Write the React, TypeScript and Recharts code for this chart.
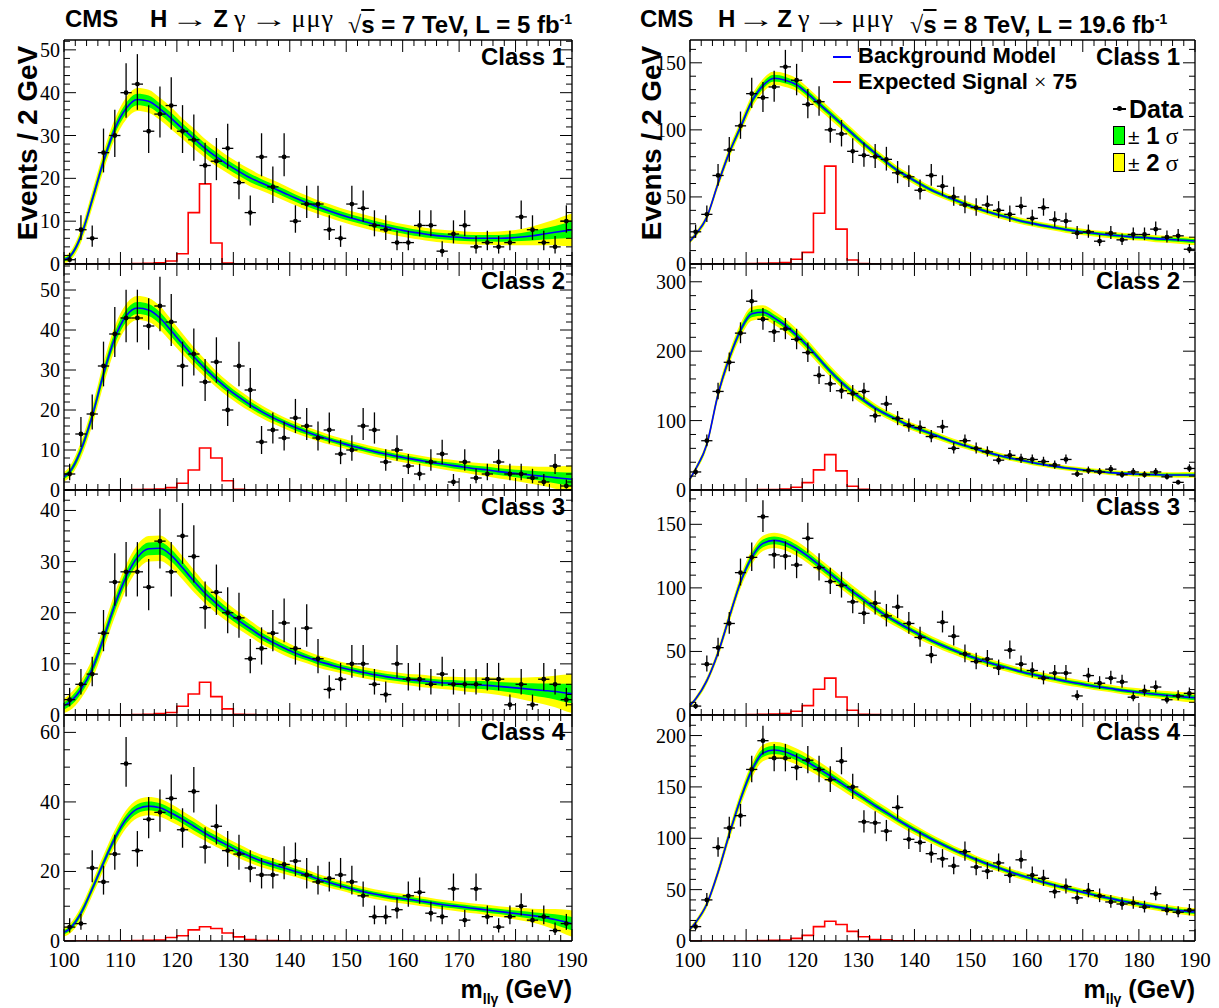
import React from "react";
import { ComposedChart, Line, Area, Scatter, XAxis, YAxis, ErrorBar } from "recharts";

// bin centres (2 GeV bins) and model sampling points
const BIN_X = [
  101, 103, 105, 107, 109, 111, 113, 115, 117, 119, 121, 123, 125, 127, 129,
  131, 133, 135, 137, 139, 141, 143, 145, 147, 149, 151, 153, 155, 157, 159,
  161, 163, 165, 167, 169, 171, 173, 175, 177, 179, 181, 183, 185, 187, 189,
];
const MODEL_X = [100, ...BIN_X, 190];
const SIGNAL_EDGES = [
  100, 102, 104, 106, 108, 110, 112, 114, 116, 118, 120, 122, 124, 126, 128,
  130, 132, 134, 136, 138, 140, 142, 144, 146, 148, 150, 152, 154, 156, 158,
  160, 162, 164, 166, 168, 170, 172, 174, 176, 178, 180,
];
const X_MAJOR = [100, 110, 120, 130, 140, 150, 160, 170, 180, 190];
const X_TICKS = SIGNAL_EDGES.concat([182, 184, 186, 188, 190]);

// ---- 7 TeV ----
const DATA_7_C1 = [1, 8, 6, 26, 30, 40, 42, 31, 35, 37, 31, 29, 23, 24, 27, 19, 12, 25, 18, 25, 10, 14, 14, 8, 6, 14, 13, 9, 8, 5, 5, 9, 9, 3, 7, 9, 4, 5, 4, 5, 11, 8, 5, 4, 10];
const DATA_7_C2 = [4, 14, 19, 31, 39, 43, 43, 41, 46, 42, 31, 34, 27, 32, 20, 31, 25, 12, 15, 13, 18, 16, 13, 15, 9, 10, 16, 15, 7, 10, 6, 4, 7, 9, 2, 7, 3, 4, 7, 4, 4, 3, 2, 6, 1];
const DATA_7_C3 = [3, 6, 8, 16, 26, 28, 28, 25, 34, 28, 35, 31, 21, 24, 20, 19, 11, 13, 16, 18, 13, 17, 11, 5, 7, 10, 10, 6, 4, 10, 7, 7, 6, 8, 6, 6, 6, 7, 7, 2, 6, 2, 7, 6, 3];
const DATA_7_C4 = [4, 5, 21, 17, 25, 51, 26, 35, 37, 41, 32, 43, 27, 33, 26, 25, 21, 19, 19, 22, 23, 19, 17, 18, 19, 17, 13, 7, 7, 9, 13, 14, 8, 7, 15, 6, 15, 7, 4, 7, 10, 6, 7, 3, 5];

const MODEL_7_C1 = [
  1.0, 1.7, 6.5, 15, 24, 31.5, 36.3, 38.4, 38.0, 36.2,
  34.0, 31.6, 29.3, 27.0, 25.0, 23.2, 21.6, 20.1, 18.9, 17.8,
  16.6, 15.4, 14.3, 13.3, 12.4, 11.5, 10.7, 10.0, 9.3, 8.7,
  8.1, 7.6, 7.2, 6.8, 6.5, 6.3, 6.1, 6.0, 6.0, 6.0,
  6.1, 6.3, 6.6, 7.0, 7.4, 7.8, 8.0,
];
const SIGMA_7_C1 = [
  0.4, 0.5, 0.8, 1.0, 1.1, 1.2, 1.3, 1.35, 1.35, 1.3,
  1.3, 1.2, 1.2, 1.1, 1.1, 1.0, 1.0, 1.0, 0.9, 0.9,
  0.9, 0.85, 0.85, 0.8, 0.8, 0.8, 0.8, 0.8, 0.8, 0.75,
  0.75, 0.75, 0.75, 0.75, 0.75, 0.75, 0.75, 0.75, 0.75, 0.8,
  0.85, 0.95, 1.1, 1.3, 1.5, 1.8, 1.9,
];
const MODEL_7_C2 = [
  3.3, 4.5, 10, 18.5, 29, 38, 43.5, 45.5, 45.0, 43.0,
  39.8, 36.5, 33.3, 30.4, 27.7, 25.3, 23.2, 21.3, 19.6, 18.1,
  16.8, 15.6, 14.5, 13.5, 12.6, 11.8, 11.0, 10.3, 9.6, 9.0,
  8.4, 7.9, 7.4, 6.9, 6.5, 6.1, 5.7, 5.3, 5.0, 4.6,
  4.3, 4.0, 3.7, 3.4, 3.1, 2.8, 2.7,
];
const SIGMA_7_C2 = [
  0.6, 0.7, 1.0, 1.2, 1.4, 1.5, 1.5, 1.5, 1.5, 1.5,
  1.4, 1.3, 1.2, 1.1, 1.0, 0.95, 0.9, 0.85, 0.8, 0.75,
  0.7, 0.7, 0.65, 0.65, 0.6, 0.6, 0.6, 0.6, 0.6, 0.6,
  0.6, 0.6, 0.6, 0.6, 0.65, 0.7, 0.7, 0.75, 0.8, 0.85,
  0.9, 1.0, 1.1, 1.2, 1.4, 1.6, 1.7,
];
const MODEL_7_C3 = [
  1.8, 2.5, 5, 9, 15, 21.5, 27, 30.8, 32.5, 32.6,
  31.2, 28.8, 26.2, 23.8, 21.8, 20.0, 18.4, 16.9, 15.4, 14.2,
  13.1, 12.1, 11.3, 10.5, 9.9, 9.3, 8.8, 8.3, 7.9, 7.5,
  7.2, 6.9, 6.7, 6.5, 6.3, 6.2, 6.0, 5.9, 5.8, 5.6,
  5.4, 5.2, 5.0, 4.8, 4.6, 4.3, 4.2,
];
const SIGMA_7_C3 = [
  0.7, 0.8, 0.9, 1.0, 1.1, 1.2, 1.2, 1.25, 1.25, 1.25,
  1.2, 1.15, 1.1, 1.0, 0.95, 0.9, 0.85, 0.8, 0.75, 0.7,
  0.7, 0.65, 0.6, 0.6, 0.6, 0.55, 0.55, 0.55, 0.55, 0.55,
  0.55, 0.55, 0.6, 0.6, 0.6, 0.65, 0.7, 0.75, 0.8, 0.85,
  0.95, 1.05, 1.2, 1.35, 1.55, 1.8, 1.9,
];
const MODEL_7_C4 = [
  2.5, 3.5, 8, 15, 22.5, 29.5, 35, 38, 38.8, 38.3,
  36.8, 35.0, 33.0, 31.0, 29.2, 27.5, 25.8, 24.3, 23.0, 22.0,
  21.0, 20.0, 19.0, 17.8, 16.8, 15.9, 15.0, 14.2, 13.5, 12.9,
  12.4, 12.0, 11.5, 11.0, 10.5, 10.1, 9.7, 9.3, 8.9, 8.5,
  8.1, 7.7, 7.3, 6.8, 6.2, 5.4, 5.0,
];
const SIGMA_7_C4 = [
  0.6, 0.7, 0.9, 1.0, 1.1, 1.2, 1.3, 1.3, 1.3, 1.3,
  1.3, 1.2, 1.2, 1.1, 1.1, 1.0, 1.0, 0.95, 0.9, 0.9,
  0.85, 0.8, 0.8, 0.75, 0.75, 0.7, 0.7, 0.7, 0.7, 0.7,
  0.7, 0.7, 0.7, 0.7, 0.7, 0.7, 0.7, 0.7, 0.75, 0.75,
  0.8, 0.9, 1.0, 1.2, 1.5, 1.8, 1.9,
];

const SIGNAL_7_C1 = [0, 0, 0, 0, 0, 0.05, 0.1, 0.15, 0.3, 0.7, 2.4, 12, 18.7, 4.9, 0.2, 0, 0, 0, 0, 0, 0, 0, 0, 0, 0, 0, 0, 0, 0, 0, 0, 0, 0, 0, 0, 0, 0, 0, 0, 0];
const SIGNAL_7_C2 = [0, 0, 0, 0, 0, 0.05, 0.1, 0.15, 0.25, 0.6, 1.7, 5.0, 10.5, 8.0, 2.3, 0.15, 0.05, 0, 0, 0, 0, 0, 0, 0, 0, 0, 0, 0, 0, 0, 0, 0, 0, 0, 0, 0, 0, 0, 0, 0];
const SIGNAL_7_C3 = [0, 0, 0, 0, 0, 0.05, 0.1, 0.15, 0.3, 0.5, 1.7, 4.1, 6.4, 3.6, 1.2, 0.15, 0.1, 0, 0, 0, 0, 0, 0, 0, 0, 0, 0, 0, 0, 0, 0, 0, 0, 0, 0, 0, 0, 0, 0, 0];
const SIGNAL_7_C4 = [0, 0, 0, 0, 0, 0.05, 0.15, 0.2, 0.3, 1.0, 1.5, 3.2, 4.1, 3.6, 2.3, 1.2, 0.4, 0.1, 0.1, 0.05, 0, 0, 0, 0, 0, 0, 0, 0, 0, 0, 0, 0, 0, 0, 0, 0, 0, 0, 0, 0];

// ---- 8 TeV ----
const DATA_8_C1 = [24, 37, 66, 85, 103, 127, 124, 132, 147, 137, 119, 121, 100, 97, 84, 81, 80, 78, 68, 65, 55, 66, 58, 50, 44, 42, 44, 40, 37, 43, 34, 42, 33, 32, 23, 24, 17, 23, 18, 22, 22, 26, 20, 21, 11];
const DATA_8_C2 = [26, 71, 142, 184, 226, 272, 246, 228, 232, 217, 198, 165, 153, 143, 139, 142, 107, 124, 103, 93, 90, 77, 91, 60, 71, 60, 55, 43, 50, 45, 44, 41, 36, 44, 23, 28, 26, 30, 22, 26, 22, 26, 19, 11, 31];
const DATA_8_C3 = [7, 40, 53, 72, 112, 124, 156, 126, 125, 118, 139, 116, 105, 102, 89, 80, 88, 78, 85, 72, 61, 47, 73, 62, 48, 42, 44, 37, 51, 40, 35, 29, 33, 33, 15, 31, 25, 29, 26, 14, 19, 22, 12, 15, 17];
const DATA_8_C4 = [14, 40, 91, 110, 122, 167, 195, 178, 178, 169, 176, 167, 157, 175, 150, 116, 115, 107, 130, 99, 96, 85, 80, 73, 87, 72, 68, 76, 64, 79, 64, 61, 48, 53, 42, 49, 44, 38, 36, 37, 33, 46, 30, 28, 30];

const MODEL_8_C1 = [
  17, 22, 35, 60, 83, 102, 121, 133, 138.5, 137,
  133.6, 127, 119.4, 112, 104.5, 97, 89.5, 82.6, 76, 69.7,
  64.7, 59.7, 55.2, 51.5, 48, 44.8, 41.8, 39, 36.6, 34.3,
  32, 30.3, 28.6, 27.1, 25.6, 24.4, 23.4, 22.4, 21.6, 20.9,
  20.1, 19.7, 18.9, 18.4, 17.9, 17.4, 17.2,
];
const SIGMA_8_C1 = [
  0.8, 1.0, 1.3, 1.7, 2.0, 2.2, 2.4, 2.5, 2.5, 2.5,
  2.4, 2.3, 2.2, 2.1, 2.0, 1.9, 1.8, 1.7, 1.6, 1.5,
  1.5, 1.4, 1.4, 1.3, 1.3, 1.3, 1.2, 1.2, 1.2, 1.2,
  1.2, 1.2, 1.2, 1.2, 1.2, 1.2, 1.2, 1.2, 1.2, 1.2,
  1.2, 1.2, 1.3, 1.3, 1.4, 1.5, 1.5,
];
const MODEL_8_C2 = [
  16, 30, 66, 138, 190, 230, 254, 256, 248, 237,
  223, 207, 189, 171, 155, 141, 129, 118, 109, 101,
  93, 87, 81, 75, 69, 64, 59, 54, 50, 46,
  43, 39.5, 36.6, 34, 31.8, 30, 28, 26.5, 25, 24,
  23, 22.6, 22.1, 21.7, 21.7, 21.7, 21.7,
];
const SIGMA_8_C2 = [
  1.5, 2, 3, 4, 4.5, 5, 5, 5, 5, 4.8,
  4.6, 4.4, 4.2, 4.0, 3.8, 3.6, 3.4, 3.2, 3.0, 2.9,
  2.8, 2.7, 2.6, 2.5, 2.4, 2.3, 2.2, 2.1, 2.0, 2.0,
  1.9, 1.9, 1.8, 1.8, 1.8, 1.8, 1.8, 1.8, 1.8, 1.8,
  1.8, 1.8, 1.9, 1.9, 2.0, 2.1, 2.1,
];
const MODEL_8_C3 = [
  7.4, 12.6, 27, 49, 77, 104.5, 124, 135, 137.4, 135.5,
  131, 125, 118, 111, 104, 97, 90.6, 84, 78, 72.8,
  67.8, 63, 58.6, 54.6, 51, 47.5, 44.4, 41.5, 38.9, 36.5,
  34.1, 32, 30.2, 28.4, 26.5, 25, 23.4, 22, 20.8, 19.4,
  18.4, 17.3, 16.3, 15.5, 14.7, 13.9, 13.6,
];
const SIGMA_8_C3 = [
  0.8, 1.0, 1.4, 1.8, 2.2, 2.5, 2.8, 3.0, 3.0, 3.0,
  2.9, 2.8, 2.7, 2.6, 2.5, 2.4, 2.3, 2.2, 2.1, 2.0,
  1.9, 1.9, 1.8, 1.8, 1.7, 1.7, 1.6, 1.6, 1.6, 1.5,
  1.5, 1.5, 1.5, 1.5, 1.5, 1.5, 1.5, 1.5, 1.5, 1.5,
  1.5, 1.6, 1.6, 1.7, 1.8, 1.9, 2.0,
];
const MODEL_8_C4 = [
  11.4, 18, 36, 67, 104, 138, 166, 183, 186, 184,
  179.5, 174, 167.5, 160.6, 153.5, 146, 139, 131.7, 125, 118,
  111.5, 105.4, 99.5, 94, 88.8, 84, 79.3, 75, 71.2, 67.3,
  63.7, 60.5, 57.2, 54.3, 51.4, 48.8, 46.2, 43.6, 41.3, 39,
  37, 35.1, 33.2, 31.5, 29.9, 28.6, 28.2,
];
const SIGMA_8_C4 = [
  1.0, 1.3, 1.8, 2.4, 3.0, 3.4, 3.8, 4.0, 4.0, 4.0,
  3.9, 3.8, 3.6, 3.4, 3.2, 3.0, 2.8, 2.7, 2.6, 2.5,
  2.4, 2.3, 2.2, 2.1, 2.0, 2.0, 1.9, 1.9, 1.8, 1.8,
  1.8, 1.7, 1.7, 1.7, 1.7, 1.7, 1.7, 1.7, 1.7, 1.7,
  1.7, 1.7, 1.7, 1.8, 1.8, 1.9, 2.0,
];

const SIGNAL_8_C1 = [0, 0, 0, 0, 0, 0.3, 0.5, 0.8, 1.0, 3.5, 8.7, 37.8, 73, 26, 3, 0.3, 0, 0, 0, 0, 0, 0, 0, 0, 0, 0, 0, 0, 0, 0, 0, 0, 0, 0, 0, 0, 0, 0, 0, 0];
const SIGNAL_8_C2 = [0, 0, 0, 0, 0, 0.3, 0.5, 0.8, 1.5, 4, 10.6, 29, 51, 27.5, 5.3, 1, 0.3, 0, 0, 0, 0, 0, 0, 0, 0, 0, 0, 0, 0, 0, 0, 0, 0, 0, 0, 0, 0, 0, 0, 0];
const SIGNAL_8_C3 = [0, 0, 0, 0, 0, 0.3, 0.5, 0.8, 1.2, 2.9, 7.4, 20.2, 29, 14.2, 3.7, 0.6, 0.3, 0, 0, 0, 0, 0, 0, 0, 0, 0, 0, 0, 0, 0, 0, 0, 0, 0, 0, 0, 0, 0, 0, 0];
const SIGNAL_8_C4 = [0, 0, 0, 0, 0, 0.3, 0.4, 0.6, 1.0, 2.6, 5.5, 14, 19.2, 16, 9.4, 4.2, 1.3, 1.2, 0.3, 0.1, 0, 0, 0, 0, 0, 0, 0, 0, 0, 0, 0, 0, 0, 0, 0, 0, 0, 0, 0, 0];

const CLASS_LABELS = ["Class 1", "Class 2", "Class 3", "Class 4"];
const Y_MAX_7 = [52.3, 56.5, 44, 65];
const Y_MAX_8 = [167, 325.6, 177, 220];
const Y_MAJOR_7 = [[0, 10, 20, 30, 40, 50], [0, 10, 20, 30, 40, 50], [0, 10, 20, 30, 40], [0, 20, 40, 60]];
const Y_MINOR_7 = [2, 2, 2, 5];
const Y_MAJOR_8 = [[0, 50, 100, 150], [0, 100, 200, 300], [0, 50, 100, 150], [0, 50, 100, 150, 200]];
const Y_MINOR_8 = [10, 20, 10, 10];

const PANELS = [
  [
    { data: DATA_7_C1, model: MODEL_7_C1, sigma: SIGMA_7_C1, signal: SIGNAL_7_C1 },
    { data: DATA_7_C2, model: MODEL_7_C2, sigma: SIGMA_7_C2, signal: SIGNAL_7_C2 },
    { data: DATA_7_C3, model: MODEL_7_C3, sigma: SIGMA_7_C3, signal: SIGNAL_7_C3 },
    { data: DATA_7_C4, model: MODEL_7_C4, sigma: SIGMA_7_C4, signal: SIGNAL_7_C4 },
  ],
  [
    { data: DATA_8_C1, model: MODEL_8_C1, sigma: SIGMA_8_C1, signal: SIGNAL_8_C1 },
    { data: DATA_8_C2, model: MODEL_8_C2, sigma: SIGMA_8_C2, signal: SIGNAL_8_C2 },
    { data: DATA_8_C3, model: MODEL_8_C3, sigma: SIGMA_8_C3, signal: SIGNAL_8_C3 },
    { data: DATA_8_C4, model: MODEL_8_C4, sigma: SIGMA_8_C4, signal: SIGNAL_8_C4 },
  ],
];

// layout
const COLS = [
  { left: 0, width: 600, plotLeft: 64, plotRight: 572, classGap: 7 },
  { left: 610, width: 609, plotLeft: 690, plotRight: 1195, classGap: 15 },
];
const ROW_TOPS = [40, 264, 490, 715];
const ROW_BOTTOMS = [264, 490, 715, 941];
const Y_W = 40;

const SERIF = "'Liberation Serif', 'DejaVu Serif', serif";
const SANS = "'Liberation Sans', Arial, sans-serif";

// Poisson-like asymmetric errors for the data points
const poissonErr = (n: number) => {
  const s = Math.sqrt(n + 0.25);
  return [s - 0.5, s + 0.5];
};

const XTick = (props: any) => {
  const { x, y, payload, side, showLabels } = props;
  const v = payload.value;
  const major = X_MAJOR.includes(v);
  const len = major ? 12 : 6;
  const dir = side === "bottom" ? -1 : 1;
  return (
    <g>
      <line x1={x} x2={x} y1={y} y2={y + dir * len} stroke="#000" strokeWidth={1} />
      {showLabels && major && side === "bottom" && (
        <text x={x} y={y + 19} textAnchor="middle" dominantBaseline="central" fontFamily={SERIF} fontSize={21} fill="#000">
          {v}
        </text>
      )}
    </g>
  );
};

const YTick = (props: any) => {
  const { x, y, payload, side, majors } = props;
  const v = payload.value;
  const major = majors.includes(v);
  const len = major ? 12 : 6;
  const dir = side === "left" ? 1 : -1;
  return (
    <g>
      <line x1={x} x2={x + dir * len} y1={y} y2={y} stroke="#000" strokeWidth={1} />
      {major && side === "left" && (
        <text x={x - 4} y={y} textAnchor="end" dominantBaseline="central" fontFamily={SERIF} fontSize={20} fill="#000">
          {v}
        </text>
      )}
    </g>
  );
};

const dotShape = (p: any) => <circle cx={p.cx} cy={p.cy} r={2.4} fill="#000" />;

function Panel({ col, row }: { col: number; row: number }) {
  const c = COLS[col];
  const p = PANELS[col][row];
  const yMax = col === 0 ? Y_MAX_7[row] : Y_MAX_8[row];
  const majors = col === 0 ? Y_MAJOR_7[row] : Y_MAJOR_8[row];
  const minor = col === 0 ? Y_MINOR_7[row] : Y_MINOR_8[row];
  const yTicks: number[] = [];
  for (let v = 0; v <= yMax + 1e-9; v += minor) yTicks.push(Math.round(v * 100) / 100);

  const isLast = row === 3;
  const padTop = 15;
  const padBottom = isLast ? 40 : 15;
  const top = ROW_TOPS[row];
  const height = ROW_BOTTOMS[row] - top + padTop + padBottom;
  const margin = {
    top: padTop - 1,
    bottom: padBottom - 1,
    left: c.plotLeft - c.left - Y_W,
    right: c.left + c.width - c.plotRight - 1,
  };

  const modelRows = MODEL_X.map((x, i) => {
    const m = p.model[i];
    const s = p.sigma[i];
    return { x, m, b1: [m - s, m + s], b2: [m - 2 * s, m + 2 * s] };
  });
  const points = BIN_X.map((x, i) => ({ x, n: p.data[i], ey: poissonErr(p.data[i]), ex: 1 }));
  const sigRows = SIGNAL_EDGES.map((x, i) => ({ x, s: p.signal[Math.min(i, p.signal.length - 1)] }));

  return (
    <div style={{ position: "absolute", left: c.left, top: top - padTop, width: c.width, height }}>
      <ComposedChart width={c.width} height={height} margin={margin}>
        <XAxis
          xAxisId="b"
          type="number"
          dataKey="x"
          domain={[100, 190]}
          ticks={X_TICKS}
          interval={0}
          height={1}
          tickSize={0}
          tickMargin={0}
          allowDataOverflow
          axisLine={{ stroke: "#000", strokeWidth: 1.3 }}
          tick={(t: any) => <XTick {...t} side="bottom" showLabels={isLast} />}
        />
        <XAxis
          xAxisId="t"
          orientation="top"
          type="number"
          dataKey="x"
          domain={[100, 190]}
          ticks={X_TICKS}
          interval={0}
          height={1}
          tickSize={0}
          tickMargin={0}
          allowDataOverflow
          axisLine={{ stroke: "#000", strokeWidth: 1.3 }}
          tick={(t: any) => <XTick {...t} side="top" showLabels={false} />}
        />
        <YAxis
          yAxisId="l"
          type="number"
          domain={[0, yMax]}
          ticks={yTicks}
          interval={0}
          width={Y_W}
          tickSize={0}
          tickMargin={0}
          allowDataOverflow
          axisLine={{ stroke: "#000", strokeWidth: 1.3 }}
          tick={(t: any) => <YTick {...t} side="left" majors={majors} />}
        />
        <YAxis
          yAxisId="r"
          orientation="right"
          type="number"
          domain={[0, yMax]}
          ticks={yTicks}
          interval={0}
          width={1}
          tickSize={0}
          tickMargin={0}
          allowDataOverflow
          axisLine={{ stroke: "#000", strokeWidth: 1.3 }}
          tick={(t: any) => <YTick {...t} side="right" majors={majors} />}
        />
        <Area xAxisId="b" yAxisId="l" data={modelRows} dataKey="b2" type="monotone" fill="#ffff00" fillOpacity={1} stroke="none" isAnimationActive={false} />
        <Area xAxisId="b" yAxisId="l" data={modelRows} dataKey="b1" type="monotone" fill="#00ff00" fillOpacity={1} stroke="none" isAnimationActive={false} />
        <Line xAxisId="b" yAxisId="l" data={sigRows} dataKey="s" type="stepAfter" stroke="#ff0000" strokeWidth={1.6} dot={false} isAnimationActive={false} />
        <Line xAxisId="b" yAxisId="l" data={modelRows} dataKey="m" type="monotone" stroke="#0000ff" strokeWidth={1.6} dot={false} isAnimationActive={false} />
        <Scatter xAxisId="b" yAxisId="l" data={points} dataKey="n" shape={dotShape} isAnimationActive={false}>
          <ErrorBar dataKey="ey" direction="y" width={0} stroke="#000" strokeWidth={1.3} isAnimationActive={false} />
          <ErrorBar dataKey="ex" direction="x" width={0} stroke="#000" strokeWidth={1.3} isAnimationActive={false} />
        </Scatter>
      </ComposedChart>
      <div
        style={{
          position: "absolute",
          right: c.left + c.width - c.plotRight + c.classGap,
          top: padTop + 3,
          fontFamily: SANS,
          fontWeight: 700,
          fontSize: 24,
          lineHeight: "28px",
          whiteSpace: "nowrap",
        }}
      >
        {CLASS_LABELS[row]}
      </div>
    </div>
  );
}

const sym = { fontFamily: SERIF, fontWeight: 400, fontSize: 26 } as const;

const Header = ({ pos, energy, lumi, arrowGap }: { pos: number[]; energy: string; lumi: string; arrowGap: number }) => {
  const base = {
    position: "absolute" as const,
    top: 5,
    fontFamily: SANS,
    fontWeight: 700,
    fontSize: 24,
    whiteSpace: "nowrap" as const,
    lineHeight: "28px",
  };
  const arrow = {
    fontFamily: SERIF,
    fontWeight: 400,
    fontSize: 24,
    display: "inline-block",
    transform: "scaleX(1.6)",
    margin: `0 ${arrowGap}px`,
  };
  return (
    <>
      <div style={{ ...base, left: pos[0] }}>CMS</div>
      <div style={{ ...base, left: pos[1] }}>
        H<span style={arrow}>→</span>Z<span style={{ ...sym, marginLeft: 6 }}>γ</span>
        <span style={arrow}>→</span>
        <span style={{ ...sym, letterSpacing: 1 }}>μμγ</span>
      </div>
      <div style={{ ...base, left: pos[2] }}>
        <span style={{ fontFamily: SERIF, fontWeight: 400 }}>√</span>
        <span style={{ textDecoration: "overline" }}>s</span> = {energy} TeV, L = {lumi} fb
        <sup style={{ fontSize: 14 }}>-1</sup>
      </div>
    </>
  );
};

const YTitle = ({ cx }: { cx: number }) => (
  <div
    style={{
      position: "absolute",
      left: cx - 130,
      top: 143 - 17,
      width: 260,
      height: 34,
      textAlign: "center",
      transform: "rotate(-90deg)",
      fontFamily: SANS,
      fontWeight: 700,
      fontSize: 28,
      lineHeight: "34px",
      whiteSpace: "nowrap",
    }}
  >
    Events / 2 GeV
  </div>
);

const XTitle = ({ right }: { right: number }) => (
  <div
    style={{
      position: "absolute",
      left: right - 220,
      width: 220,
      top: 974,
      textAlign: "right",
      fontFamily: SANS,
      fontWeight: 700,
      fontSize: 25,
      lineHeight: "30px",
      whiteSpace: "nowrap",
    }}
  >
    m<sub style={{ fontSize: 14 }}>llγ</sub> (GeV)
  </div>
);

const Legend = () => (
  <div style={{ position: "absolute", left: 0, top: 0, fontFamily: SANS, fontWeight: 700 }}>
    <div style={{ position: "absolute", left: 833, top: 56, width: 18, height: 2, background: "#0000ff" }} />
    <div style={{ position: "absolute", left: 858, top: 43, fontSize: 22, lineHeight: "26px", whiteSpace: "nowrap" }}>
      Background Model
    </div>
    <div style={{ position: "absolute", left: 833, top: 81, width: 18, height: 2, background: "#ff0000" }} />
    <div style={{ position: "absolute", left: 858, top: 69, fontSize: 22, lineHeight: "26px", whiteSpace: "nowrap" }}>
      Expected Signal <span style={{ fontFamily: SERIF, fontWeight: 400 }}>×</span> 75
    </div>
    <div style={{ position: "absolute", left: 1113, top: 108, width: 13, height: 1.5, background: "#000" }} />
    <div style={{ position: "absolute", left: 1117, top: 106, width: 5, height: 5, borderRadius: 3, background: "#000" }} />
    <div style={{ position: "absolute", left: 1129, top: 94, fontSize: 25, lineHeight: "30px", whiteSpace: "nowrap" }}>
      Data
    </div>
    <div style={{ position: "absolute", left: 1113, top: 126, width: 10, height: 17, background: "#00ff00", border: "1.3px solid #000" }} />
    <div style={{ position: "absolute", left: 1128, top: 121, fontSize: 24, lineHeight: "30px", whiteSpace: "nowrap" }}>
      <span style={{ fontWeight: 400, fontSize: 21 }}>±</span> 1<span style={{ fontFamily: SERIF, fontWeight: 400 }}> σ</span>
    </div>
    <div style={{ position: "absolute", left: 1113, top: 153, width: 10, height: 17, background: "#ffff00", border: "1.3px solid #000" }} />
    <div style={{ position: "absolute", left: 1128, top: 148, fontSize: 24, lineHeight: "30px", whiteSpace: "nowrap" }}>
      <span style={{ fontWeight: 400, fontSize: 21 }}>±</span> 2<span style={{ fontFamily: SERIF, fontWeight: 400 }}> σ</span>
    </div>
  </div>
);

export default function App() {
  return (
    <div style={{ position: "absolute", left: 0, top: 0, width: 1219, height: 1008, background: "#fff", overflow: "hidden" }}>
      <Header pos={[65, 150, 348]} energy="7" lumi="5" arrowGap={11} />
      <Header pos={[640, 718, 910]} energy="8" lumi="19.6" arrowGap={9} />
      <YTitle cx={28} />
      <YTitle cx={652} />
      {[0, 1].map((col) => [0, 1, 2, 3].map((row) => <Panel key={`${col}-${row}`} col={col} row={row} />))}
      <Legend />
      <XTitle right={572} />
      <XTitle right={1195} />
    </div>
  );
}
